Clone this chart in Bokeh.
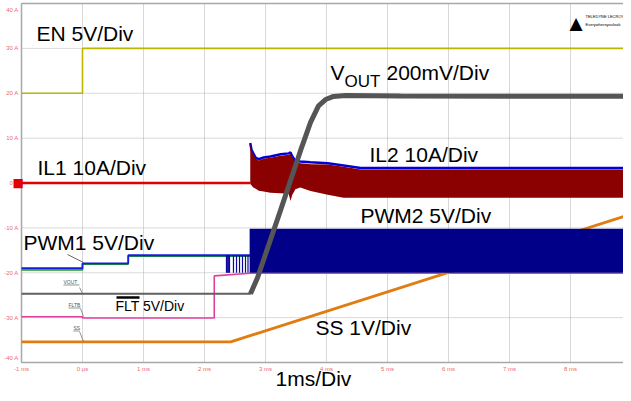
from bokeh.plotting import figure
from bokeh.models import Range1d, Label, LabelSet, ColumnDataSource
from bokeh.embed import file_html
from bokeh.resources import INLINE
from bokeh.core.properties import value

# ---------------- data (time in ms, vertical in screen units: 10 per division) -------------
x_ticks = [-1, 0, 1, 2, 3, 4, 5, 6, 7, 8, 9]
x_tick_labels = ["-1 ms", "0 µs", "1 ms", "2 ms", "3 ms", "4 ms", "5 ms", "6 ms", "7 ms", "8 ms", "9 ms"]
y_ticks = [40, 30, 20, 10, 0, -10, -20, -30, -40]
y_tick_labels = ["40 A", "30 A", "20 A", "10 A", "0 A", "-10 A", "-20 A", "-30 A", "-40 A"]

en_t = [-1, 0, 0, 9]
en_v = [20.0, 20.0, 30.0, 30.0]

il1_t = [-1, 2.75]
il1_v = [0.0, 0.0]

il_t = [2.75, 2.77, 2.80, 2.84, 2.89, 2.97, 3.08, 3.25, 3.38, 3.41, 3.44, 3.49, 3.57, 3.74, 4.02, 4.28, 4.56, 9.0]
il_hi = [8.8, 7.2, 6.4, 5.4, 5.0, 5.4, 5.6, 6.1, 6.3, 6.5, 5.6, 4.6, 4.4, 4.2, 4.1, 3.6, 3.0, 3.0]
il_lo = [-0.2, -0.5, -1.0, -1.3, -1.7, -1.9, -2.2, -2.3, -2.4, -4.0, -2.6, -1.4, -1.0, -1.8, -2.6, -3.3, -3.3, -3.3]
il2_edge = [8.9, 7.4, 6.6, 5.6, 5.3, 5.7, 5.9, 6.4, 6.6, 6.8, 5.9, 4.9, 4.8, 4.6, 4.4, 3.9, 3.35, 3.35]

pwm1_t = [-1, 0, 0, 0.75, 0.75, 2.75]
pwm1_v = [-19.0, -19.0, -17.9, -17.9, -16.1, -16.1]
pwm1_green = [-19.4, -19.4, -18.1, -18.1, -16.3, -16.3]
pwm1_pulse_t = [2.36, 2.372, 2.385, 2.398, 2.41, 2.475, 2.525, 2.574, 2.623, 2.672, 2.713]
pwm_low = -20.0
pwm1_high = -16.1

pwm2_t = [2.74, 9.0]
pwm2_hi = [-10.2, -10.2]
pwm2_lo = [-20.0, -20.0]

vout_t = [-1, 2.754, 2.869, 3.246, 3.574, 3.738, 3.869, 3.984, 4.115, 4.311, 5.213, 9.0]
vout_v = [-24.7, -24.7, -21.1, -6.1, 7.2, 13.5, 17.2, 18.6, 19.3, 19.5, 19.4, 19.3]

flt_t = [-1, 0, 0, 2.16, 2.16, 2.75, 9]
flt_v = [-29.8, -29.8, -30.1, -30.1, -20.7, -20.1, -20.1]

ss_t = [-1, 2.43, 9]
ss_v = [-35.4, -35.4, -6.9]

# --------------------------------------------------------------------------------------------
W, H = 623, 393
PX_PER_MS = 61.0
PX_PER_UNIT = 4.4875
X0_PX = 21.0      # pixel column of t = -1 ms
Y0_PX = 182.5     # pixel row of 0 units


def at(px, py):
    """pixel position on the scope screen -> data position (used for annotation placement)"""
    return ((px - X0_PX) / PX_PER_MS - 1, (Y0_PX - py) / PX_PER_UNIT)


xl, yt = at(0, 0)
xr, yb = at(W, H)

p = figure(width=W, height=H, x_range=Range1d(xl, xr), y_range=Range1d(yb, yt),
           output_backend="svg", toolbar_location=None, title=None,
           x_axis_location=None, y_axis_location=None,
           min_border_left=0, min_border_right=0, min_border_top=0, min_border_bottom=0)
p.outline_line_color = None
p.background_fill_color = "white"
p.border_fill_color = "white"
p.xgrid.visible = False
p.ygrid.visible = False

FONT = "Liberation Sans"
TICK_COLOR = "#f06868"
x_lo, x_hi = x_ticks[0], x_ticks[-1]
y_lo, y_hi = y_ticks[-1], y_ticks[0]

# graticule (from the tick lists)
p.multi_line(xs=[[t, t] for t in x_ticks], ys=[[y_lo, y_hi] for _ in x_ticks],
             line_color="#d8d8d8", line_width=1)
p.multi_line(xs=[[x_lo, x_hi] for _ in y_ticks[1:-1]], ys=[[v, v] for v in y_ticks[1:-1]],
             line_color="#b4b4b4", line_width=1, line_dash="1 1")
p.multi_line(xs=[[x_lo, x_lo], [x_lo, x_hi], [x_lo, x_hi]],
             ys=[[y_lo, y_hi], [y_lo, y_lo], [y_hi, y_hi]],
             line_color="#a8a8a8", line_width=1.5)

# tick labels
lab_y = [min(max(v, -39.0), 38.6) for v in y_ticks]
ysrc = ColumnDataSource(dict(x=[x_lo] * len(y_ticks), y=lab_y, t=y_tick_labels))
p.add_layout(LabelSet(x="x", y="y", text="t", source=ysrc, x_offset=-3,
                      text_align="right", text_baseline="middle",
                      text_font=value(FONT), text_font_size=value("6px"),
                      text_color=value(TICK_COLOR)))
xlab_y = at(0, 368)[1]
xs_vis = [(t, l) for t, l in zip(x_ticks, x_tick_labels) if t < xr - 0.1]
xsrc = ColumnDataSource(dict(x=[t for t, _ in xs_vis], y=[xlab_y] * len(xs_vis), t=[l for _, l in xs_vis]))
p.add_layout(LabelSet(x="x", y="y", text="t", source=xsrc,
                      text_align="center", text_baseline="middle",
                      text_font=value(FONT), text_font_size=value("6px"),
                      text_color=value(TICK_COLOR)))

# traces
p.line(en_t, en_v, line_color="#bdb600", line_width=1.6)
p.line(il1_t, il1_v, line_color="#e00000", line_width=2.5)
p.line(il_t, il2_edge, line_color="#0000d8", line_width=2.5)
p.varea(x=il_t, y1=il_lo, y2=il_hi, fill_color="#8b0000")
p.line(pwm1_t, pwm1_green, line_color="#18a018", line_width=1.5)
p.line(pwm1_t, pwm1_v, line_color="#1a1ae0", line_width=1.8)
p.segment(x0=pwm1_pulse_t, y0=[pwm_low] * len(pwm1_pulse_t), x1=pwm1_pulse_t,
          y1=[pwm1_high] * len(pwm1_pulse_t), line_color="#0a0a9a", line_width=1.2)
p.line(flt_t, flt_v, line_color="#e0409a", line_width=1.6)
p.line(ss_t, ss_v, line_color="#e07c12", line_width=2.8)
p.varea(x=pwm2_t, y1=pwm2_lo, y2=pwm2_hi, fill_color="#000088")
p.line(vout_t, vout_v, line_color="#606060", line_width=2)
p.line(vout_t[1:], vout_v[1:], line_color="#555555", line_width=5)


def put_text(txt, px, baseline_py, size_px, color="black", font=FONT):
    """place text so that its capital letters sit on the given pixel baseline"""
    x, y = at(px, baseline_py - 0.36 * size_px)
    p.add_layout(Label(x=x, y=y, text=txt, text_font=font, text_font_size=f"{size_px}px",
                       text_color=color, text_baseline="middle"))


# channel annotations
texts = [
    ("EN 5V/Div", 36, 41, 21),
    ("V", 330, 80, 21),
    ("OUT", 344, 87, 17),
    ("200mV/Div", 386, 80, 21),
    ("IL1 10A/Div", 37, 175, 21),
    ("IL2 10A/Div", 369, 162, 21),
    ("PWM2 5V/Div", 360, 223, 21),
    ("PWM1 5V/Div", 23, 250, 21),
    ("FLT 5V/Div", 115, 311, 14),
    ("SS 1V/Div", 315, 335, 21),
    ("1ms/Div", 275, 386, 21),
]
for txt, px, py, fs in texts:
    put_text(txt, px, py, fs)

# overline on FLT
ox0, oy = at(116, 297)
ox1, _ = at(139, 297)
p.segment(x0=[ox0], y0=[oy], x1=[ox1], y1=[oy], line_color="black", line_width=2.5)

# small trace tags with leaders
tags = [("VOUT", 63, 283, 79, 287, 82, 293),
        ("FLTB", 68, 306, 80, 308, 83, 316),
        ("SS", 73, 329, 79, 331, 83, 341)]
for txt, px, py, lx0, ly0, lx1, ly1 in tags:
    put_text(txt, px, py, 5, color="#555555")
    a0 = at(px, py + 1.5)
    a1 = at(lx0, py + 1.5)
    b0 = at(lx0, ly0)
    b1 = at(lx1, ly1)
    p.segment(x0=[a0[0], b0[0]], y0=[a0[1], b0[1]], x1=[a1[0], b1[0]], y1=[a1[1], b1[1]],
              line_color="#666666", line_width=0.7)
lp0 = at(67, 254)
lp1 = at(83, 262)
p.segment(x0=[lp0[0]], y0=[lp0[1]], x1=[lp1[0]], y1=[lp1[1]], line_color="#444444", line_width=0.8)

# IL channel marker
mx, my = at(12, 182)
p.add_layout(Label(x=mx, y=my, text="■", text_font="DejaVu Sans", text_font_size="12px",
                   text_color="#e00000", text_baseline="middle"))

# logo
put_text("▲", 569, 29, 17, font="DejaVu Sans")
put_text("TELEDYNE LECROY", 585, 17, 4)
put_text("Everywhereyoulook", 585, 25, 4)

open("out.html", "w").write(file_html(p, INLINE))
